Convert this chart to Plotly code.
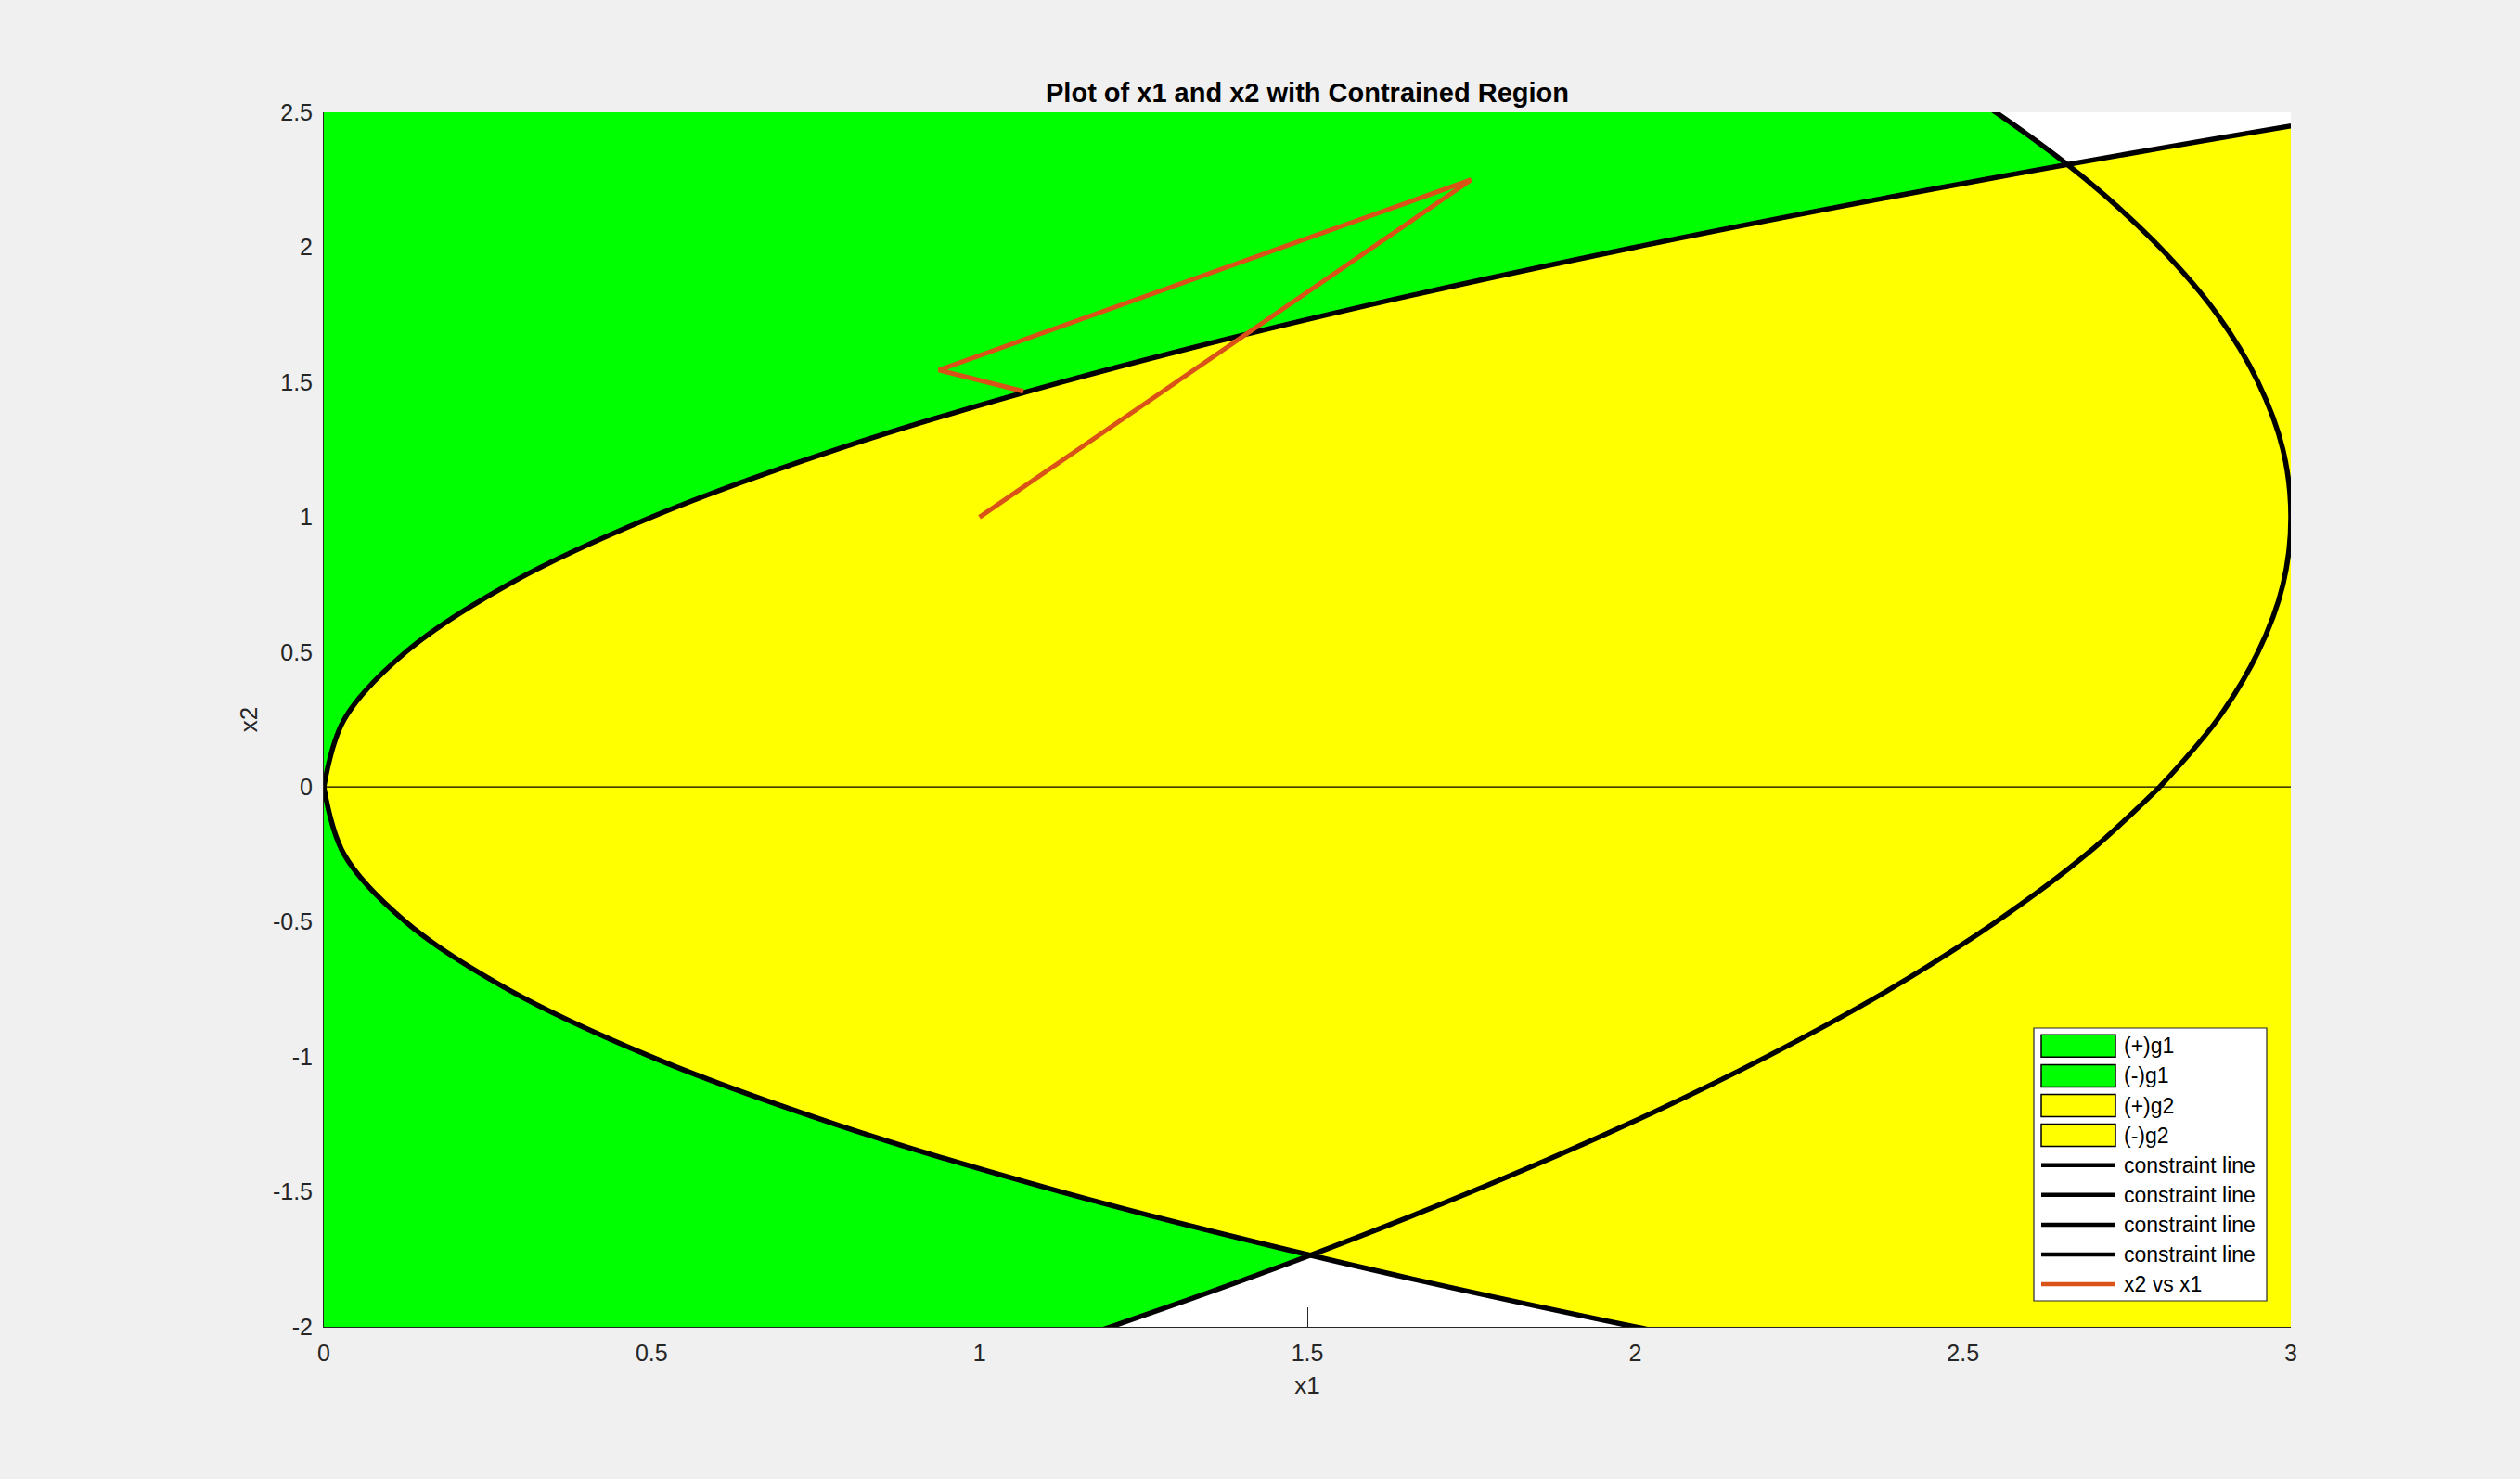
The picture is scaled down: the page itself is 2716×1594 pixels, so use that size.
import plotly.graph_objects as go

# axis limits and ticks
X_RANGE = [0, 3]
Y_RANGE = [-2, 2.5]
X_TICKS = [0, 0.5, 1, 1.5, 2, 2.5, 3]
Y_TICKS = [-2, -1.5, -1, -0.5, 0, 0.5, 1, 1.5, 2, 2.5]

# sampled x2 values shared by both constraint curves
x2_pts = [-2.75, -2.5, -2.25, -2.0, -1.75, -1.5, -1.25, -1.0, -0.75, -0.5, -0.25, 0.0,
          0.25, 0.5, 0.75, 1.0, 1.25, 1.5, 1.75, 2.0, 2.25, 2.5, 2.75]
# g1 = 0 boundary (parabola opening right, vertex at origin)
g1_x1 = [3.781, 3.125, 2.531, 2.0, 1.531, 1.125, 0.781, 0.5, 0.281, 0.125, 0.031, 0.0,
         0.031, 0.125, 0.281, 0.5, 0.781, 1.125, 1.531, 2.0, 2.531, 3.125, 3.781]
# g2 = 0 boundary (parabola opening left, vertex at (3, 1))
g2_x1 = [0.188, 0.55, 0.888, 1.2, 1.488, 1.75, 1.988, 2.2, 2.388, 2.55, 2.688, 2.8,
         2.888, 2.95, 2.988, 3.0, 2.988, 2.95, 2.888, 2.8, 2.688, 2.55, 2.388]

# iterate path
path_x1 = [1.0, 1.75, 0.938, 1.067]
path_x2 = [1.0, 2.25, 1.545, 1.466]

legend_labels = ["(+)g1", "(-)g1", "(+)g2", "(-)g2",
                 "constraint line", "constraint line", "constraint line", "constraint line",
                 "x2 vs x1"]

GREEN = "#00ff00"
YELLOW = "#ffff00"
ORANGE = "#d95319"
INK = "#262626"
FONT = "Liberation Sans"

W, H = 2716, 1594
PL, PR, PT, PB = 349, 2469, 121, 1430   # plot area in pixels


def paper(px, py):
    return (px - PL) / (PR - PL), (PB - py) / (PB - PT)


mid = x2_pts.index(0.0)
fig = go.Figure()

# green region: left of g2 boundary
far_left = X_RANGE[0] - 1
fig.add_trace(go.Scatter(
    x=g2_x1 + [far_left, far_left], y=x2_pts + [x2_pts[-1], x2_pts[0]],
    mode="lines", fill="toself", fillcolor=GREEN, line=dict(width=0, shape="spline"),
    name="g1", hoverinfo="skip"))
# yellow region: inside g1 parabola
fig.add_trace(go.Scatter(
    x=g1_x1, y=x2_pts, mode="lines", fill="toself", fillcolor=YELLOW,
    line=dict(width=0, shape="spline"), name="g2", hoverinfo="skip"))
# patch edge along x2 = 0
fig.add_trace(go.Scatter(x=X_RANGE, y=[0, 0], mode="lines",
                         line=dict(color="black", width=1.3), hoverinfo="skip"))

# constraint lines (upper / lower halves)
for xs in (g1_x1, g2_x1):
    for sl in (slice(mid, None), slice(None, mid + 1)):
        fig.add_trace(go.Scatter(x=xs[sl], y=x2_pts[sl], mode="lines",
                                 line=dict(color="black", width=5.5, shape="spline"),
                                 name="constraint line"))

fig.add_trace(go.Scatter(x=path_x1, y=path_x2, mode="lines",
                         line=dict(color=ORANGE, width=5), name="x2 vs x1"))

# legend box drawn like the MATLAB one
shapes, notes = [], []
bx0, by0 = paper(2192, 1402)
bx1, by1 = paper(2443, 1108)
shapes.append(dict(type="rect", xref="paper", yref="paper", x0=bx0, x1=bx1, y0=by0, y1=by1,
                   fillcolor="white", line=dict(color=INK, width=1.2), layer="above"))
row0, pitch = 1127.3, 32.1
for i, label in enumerate(legend_labels):
    cy = row0 + pitch * i
    sx0, _ = paper(2200, cy)
    sx1, yc = paper(2280, cy)
    if i < 4:
        col = GREEN if i < 2 else YELLOW
        _, ya = paper(2200, cy - 12)
        _, yb = paper(2200, cy + 12)
        shapes.append(dict(type="rect", xref="paper", yref="paper", x0=sx0, x1=sx1,
                           y0=yb, y1=ya, fillcolor=col, line=dict(color="black", width=1.5),
                           layer="above"))
    else:
        col = ORANGE if label == "x2 vs x1" else "black"
        shapes.append(dict(type="line", xref="paper", yref="paper", x0=sx0, x1=sx1,
                           y0=yc, y1=yc, line=dict(color=col, width=4.5), layer="above"))
    tx, _ = paper(2287, cy)
    notes.append(dict(text=label, xref="paper", yref="paper", x=tx, y=yc,
                      xanchor="left", yanchor="middle", showarrow=False,
                      font=dict(family=FONT, size=23, color="black")))

axis_common = dict(
    showgrid=False, zeroline=False, showline=True, linecolor=INK, linewidth=1,
    ticks="inside", ticklen=21, tickwidth=1, tickcolor=INK,
    tickfont=dict(family=FONT, size=25, color=INK),
    layer="below traces", mirror=False,
)
fig.update_xaxes(range=X_RANGE, tickvals=X_TICKS, ticktext=[f"{v:g}" for v in X_TICKS],
                 title=dict(text="x1", font=dict(family=FONT, size=26, color=INK), standoff=12),
                 ticklabelstandoff=6, **axis_common)
fig.update_yaxes(range=Y_RANGE, tickvals=Y_TICKS, ticktext=[f"{v:g}" for v in Y_TICKS],
                 title=dict(text="x2", font=dict(family=FONT, size=26, color=INK), standoff=8),
                 ticklabelstandoff=6, **axis_common)

fig.update_layout(
    width=W, height=H,
    margin=dict(l=PL, r=W - PR, t=PT, b=H - PB),
    paper_bgcolor="#f0f0f0", plot_bgcolor="white",
    title=dict(text="Plot of x1 and x2 with Contrained Region", x=0.5, xref="paper",
               y=1 - 100 / H, yanchor="middle",
               font=dict(family=FONT, size=29, color="black", weight="bold")),
    showlegend=False,
    shapes=shapes, annotations=notes,
)

fig.write_html("out.html", config={"displayModeBar": False},
               post_script="document.body.style.margin='0';"
                           "document.body.style.background='#f0f0f0';")
